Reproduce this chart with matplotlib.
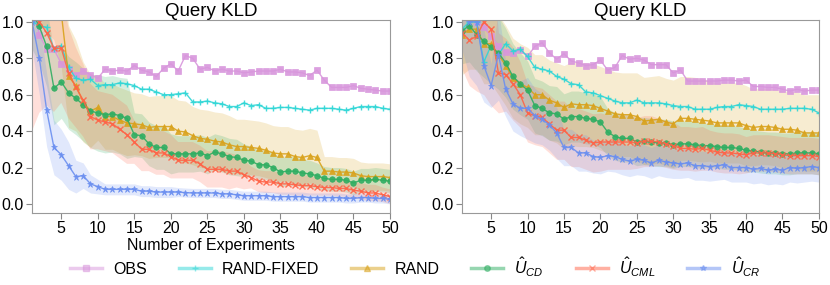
import numpy as np
import matplotlib
matplotlib.use('Agg')
import matplotlib.pyplot as plt
from matplotlib.lines import Line2D

plt.rcParams['font.family'] = ['Liberation Sans', 'DejaVu Sans']
plt.rcParams['mathtext.fontset'] = 'custom'
plt.rcParams['mathtext.rm'] = 'Liberation Sans'
plt.rcParams['mathtext.it'] = 'Liberation Sans:italic'

n_exp = np.arange(1, 51)

# ---- left panel: means ----
obs_L = [1.10, 0.93, 0.85, 0.85, 0.77, 0.74, 0.71, 0.73, 0.71, 0.69,
         0.74, 0.73, 0.735, 0.73, 0.76, 0.735, 0.725, 0.70, 0.745, 0.77,
         0.73, 0.815, 0.80, 0.74, 0.75, 0.73, 0.74, 0.73, 0.73, 0.72,
         0.725, 0.73, 0.73, 0.73, 0.74, 0.725, 0.725, 0.72, 0.705, 0.735,
         0.68, 0.64, 0.64, 0.64, 0.65, 0.635, 0.63, 0.625, 0.62, 0.62]
fixed_L = [1.0, 0.98, 0.97, 0.85, 0.87, 0.75, 0.69, 0.68, 0.685, 0.65,
           0.655, 0.655, 0.665, 0.66, 0.65, 0.63, 0.63, 0.615, 0.60, 0.60,
           0.605, 0.61, 0.56, 0.56, 0.565, 0.555, 0.55, 0.535, 0.535, 0.555,
           0.54, 0.545, 0.525, 0.525, 0.53, 0.53, 0.525, 0.52, 0.515, 0.525,
           0.525, 0.525, 0.52, 0.515, 0.525, 0.535, 0.535, 0.535, 0.525, 0.52]
rand_L = [1.3, 1.3, 1.25, 1.2, 1.05, 0.70, 0.65, 0.56, 0.51, 0.53,
          0.48, 0.48, 0.46, 0.445, 0.44, 0.435, 0.42, 0.425, 0.425, 0.425,
          0.40, 0.395, 0.375, 0.36, 0.355, 0.345, 0.34, 0.325, 0.315, 0.315,
          0.31, 0.305, 0.295, 0.28, 0.275, 0.275, 0.26, 0.255, 0.265, 0.255,
          0.18, 0.18, 0.175, 0.175, 0.17, 0.155, 0.15, 0.15, 0.15, 0.145]
ucd_L = [1.05, 0.975, 0.865, 0.635, 0.67, 0.61, 0.58, 0.545, 0.51, 0.50,
         0.49, 0.495, 0.485, 0.47, 0.38, 0.375, 0.33, 0.31, 0.31, 0.275,
         0.275, 0.275, 0.275, 0.28, 0.265, 0.285, 0.275, 0.26, 0.255, 0.24,
         0.235, 0.215, 0.215, 0.20, 0.175, 0.18, 0.18, 0.17, 0.165, 0.155,
         0.14, 0.135, 0.135, 0.13, 0.115, 0.13, 0.13, 0.135, 0.13, 0.125]
ucml_L = [1.05, 1.0, 0.94, 0.855, 0.855, 0.72, 0.64, 0.57, 0.48, 0.46,
          0.45, 0.44, 0.41, 0.38, 0.34, 0.30, 0.30, 0.28, 0.28, 0.26,
          0.24, 0.24, 0.24, 0.22, 0.19, 0.19, 0.19, 0.18, 0.18, 0.16,
          0.145, 0.125, 0.12, 0.12, 0.11, 0.11, 0.105, 0.10, 0.10, 0.095,
          0.09, 0.09, 0.085, 0.085, 0.075, 0.07, 0.06, 0.06, 0.05, 0.04]
ucr_L = [1.0, 0.80, 0.515, 0.31, 0.27, 0.21, 0.15, 0.155, 0.11, 0.095,
         0.08, 0.08, 0.08, 0.08, 0.08, 0.07, 0.07, 0.065, 0.065, 0.065,
         0.065, 0.062, 0.06, 0.06, 0.06, 0.06, 0.055, 0.055, 0.05, 0.045,
         0.045, 0.045, 0.045, 0.04, 0.04, 0.04, 0.04, 0.04, 0.035, 0.035,
         0.035, 0.035, 0.035, 0.03, 0.03, 0.035, 0.035, 0.03, 0.03, 0.025]

# ---- left panel: band half widths ----
rand_L_sd = [0.30, 0.30, 0.30, 0.30, 0.30, 0.28, 0.25, 0.22, 0.20, 0.18,
             0.18, 0.18, 0.18, 0.18, 0.17, 0.17, 0.17, 0.17, 0.17, 0.17,
             0.17, 0.17, 0.16, 0.16, 0.16, 0.16, 0.16, 0.16, 0.15, 0.15,
             0.15, 0.15, 0.15, 0.15, 0.15, 0.15, 0.15, 0.15, 0.15, 0.15,
             0.08, 0.08, 0.08, 0.08, 0.08, 0.075, 0.075, 0.075, 0.075, 0.075]
ucd_L_sd = [0.20, 0.20, 0.22, 0.20, 0.20, 0.20, 0.20, 0.20, 0.20, 0.21,
            0.21, 0.21, 0.21, 0.22, 0.12, 0.12, 0.12, 0.12, 0.12, 0.11,
            0.10, 0.10, 0.10, 0.10, 0.10, 0.10, 0.10, 0.10, 0.10, 0.09,
            0.08, 0.08, 0.08, 0.08, 0.08, 0.08, 0.08, 0.075, 0.075, 0.07,
            0.065, 0.065, 0.065, 0.065, 0.065, 0.065, 0.065, 0.065, 0.065, 0.065]
ucml_L_sd = [0.65, 0.50, 0.40, 0.35, 0.30, 0.25, 0.22, 0.20, 0.18, 0.16,
             0.16, 0.16, 0.16, 0.16, 0.12, 0.12, 0.12, 0.12, 0.12, 0.12,
             0.10, 0.10, 0.10, 0.10, 0.10, 0.10, 0.10, 0.10, 0.09, 0.08,
             0.06, 0.06, 0.06, 0.06, 0.06, 0.06, 0.06, 0.055, 0.055, 0.05,
             0.045, 0.045, 0.045, 0.045, 0.045, 0.045, 0.045, 0.045, 0.04, 0.04]
ucr_L_sd = [0.15, 0.20, 0.20, 0.15, 0.14, 0.13, 0.09, 0.07, 0.05, 0.04,
            0.03, 0.03, 0.03, 0.03, 0.03, 0.03, 0.03, 0.03, 0.03, 0.03,
            0.025, 0.025, 0.025, 0.025, 0.025, 0.025, 0.025, 0.025, 0.025, 0.025,
            0.025, 0.025, 0.025, 0.025, 0.025, 0.025, 0.025, 0.025, 0.025, 0.025,
            0.025, 0.025, 0.025, 0.025, 0.025, 0.025, 0.025, 0.025, 0.025, 0.025]

# ---- right panel: means ----
obs_R = [1.05, 1.03, 1.0, 0.97, 0.92, 0.87, 0.835, 0.83, 0.845, 0.81,
         0.865, 0.885, 0.83, 0.795, 0.825, 0.785, 0.775, 0.76, 0.765, 0.79,
         0.735, 0.75, 0.815, 0.795, 0.80, 0.79, 0.765, 0.765, 0.765, 0.72,
         0.735, 0.675, 0.675, 0.675, 0.675, 0.675, 0.68, 0.68, 0.675, 0.68,
         0.645, 0.645, 0.64, 0.64, 0.63, 0.62, 0.63, 0.62, 0.625, 0.625]
fixed_R = [0.96, 1.0, 1.0, 0.78, 0.87, 0.82, 0.88, 0.84, 0.85, 0.81,
           0.75, 0.74, 0.73, 0.70, 0.685, 0.66, 0.655, 0.615, 0.61, 0.595,
           0.58, 0.565, 0.555, 0.555, 0.57, 0.555, 0.555, 0.555, 0.55, 0.54,
           0.535, 0.535, 0.52, 0.52, 0.52, 0.53, 0.535, 0.535, 0.545, 0.54,
           0.535, 0.52, 0.52, 0.52, 0.52, 0.525, 0.525, 0.525, 0.52, 0.50]
rand_R = [0.93, 0.96, 0.96, 0.88, 0.88, 0.82, 0.76, 0.69, 0.66, 0.64,
          0.60, 0.60, 0.57, 0.555, 0.53, 0.55, 0.545, 0.545, 0.54, 0.525,
          0.51, 0.495, 0.49, 0.49, 0.48, 0.455, 0.46, 0.465, 0.45, 0.44,
          0.47, 0.47, 0.465, 0.46, 0.455, 0.445, 0.445, 0.445, 0.445, 0.43,
          0.42, 0.425, 0.425, 0.42, 0.41, 0.41, 0.405, 0.39, 0.39, 0.39]
ucd_R = [0.95, 0.98, 0.93, 0.895, 0.86, 0.83, 0.775, 0.70, 0.66, 0.625,
         0.54, 0.525, 0.50, 0.495, 0.465, 0.48, 0.48, 0.47, 0.465, 0.45,
         0.395, 0.37, 0.36, 0.36, 0.34, 0.345, 0.34, 0.335, 0.335, 0.325,
         0.33, 0.33, 0.325, 0.32, 0.32, 0.315, 0.31, 0.31, 0.305, 0.295,
         0.29, 0.285, 0.28, 0.28, 0.275, 0.275, 0.28, 0.28, 0.28, 0.275]
ucml_R = [0.94, 0.90, 0.92, 1.0, 0.96, 0.72, 0.71, 0.66, 0.60, 0.50,
          0.485, 0.475, 0.44, 0.405, 0.405, 0.365, 0.365, 0.35, 0.335, 0.34,
          0.34, 0.34, 0.34, 0.34, 0.335, 0.345, 0.345, 0.34, 0.33, 0.32,
          0.305, 0.305, 0.30, 0.305, 0.295, 0.285, 0.28, 0.28, 0.275, 0.27,
          0.28, 0.28, 0.28, 0.275, 0.27, 0.265, 0.265, 0.265, 0.265, 0.26]
ucr_R = [1.05, 1.0, 1.0, 0.76, 0.65, 0.82, 0.63, 0.55, 0.525, 0.525,
         0.485, 0.465, 0.435, 0.39, 0.31, 0.31, 0.28, 0.28, 0.26, 0.255,
         0.265, 0.26, 0.245, 0.235, 0.245, 0.24, 0.225, 0.24, 0.23, 0.225,
         0.22, 0.225, 0.21, 0.21, 0.205, 0.21, 0.215, 0.20, 0.20, 0.20,
         0.19, 0.195, 0.185, 0.19, 0.185, 0.20, 0.195, 0.20, 0.205, 0.20]

# ---- right panel: band half widths ----
rand_R_sd = [0.22, 0.22, 0.22, 0.22, 0.22, 0.22, 0.22, 0.22, 0.22, 0.22,
             0.22, 0.22, 0.22, 0.22, 0.23, 0.23, 0.23, 0.23, 0.23, 0.23,
             0.23, 0.23, 0.23, 0.23, 0.24, 0.24, 0.24, 0.24, 0.24, 0.24,
             0.23, 0.23, 0.23, 0.23, 0.22, 0.22, 0.22, 0.22, 0.22, 0.22,
             0.21, 0.21, 0.21, 0.21, 0.21, 0.21, 0.21, 0.21, 0.21, 0.21]
ucd_R_sd = [0.18, 0.20, 0.20, 0.20, 0.20, 0.20, 0.19, 0.18, 0.17, 0.16,
            0.15, 0.15, 0.15, 0.15, 0.14, 0.14, 0.14, 0.14, 0.14, 0.14,
            0.13, 0.13, 0.13, 0.13, 0.13, 0.13, 0.13, 0.13, 0.13, 0.13,
            0.125, 0.125, 0.125, 0.125, 0.12, 0.12, 0.12, 0.12, 0.12, 0.12,
            0.115, 0.115, 0.115, 0.115, 0.115, 0.115, 0.115, 0.115, 0.115, 0.115]
ucml_R_sd = [0.20, 0.25, 0.30, 0.40, 0.42, 0.22, 0.20, 0.20, 0.18, 0.16,
             0.16, 0.16, 0.16, 0.16, 0.16, 0.16, 0.16, 0.16, 0.16, 0.16,
             0.15, 0.15, 0.15, 0.15, 0.14, 0.14, 0.14, 0.13, 0.13, 0.13,
             0.12, 0.12, 0.12, 0.12, 0.11, 0.11, 0.11, 0.11, 0.11, 0.10,
             0.10, 0.10, 0.10, 0.10, 0.10, 0.10, 0.10, 0.10, 0.10, 0.10]
ucr_R_sd = [0.20, 0.30, 0.35, 0.20, 0.12, 0.25, 0.15, 0.15, 0.15, 0.17,
            0.15, 0.14, 0.14, 0.14, 0.10, 0.10, 0.10, 0.10, 0.09, 0.09,
            0.085, 0.085, 0.085, 0.085, 0.085, 0.085, 0.085, 0.085, 0.085, 0.085,
            0.08, 0.08, 0.08, 0.08, 0.08, 0.08, 0.08, 0.08, 0.08, 0.08,
            0.08, 0.08, 0.08, 0.08, 0.08, 0.08, 0.08, 0.08, 0.08, 0.08]

labels = ['OBS', 'RAND-FIXED', 'RAND', r'$\hat{U}_{CD}$', r'$\hat{U}_{CML}$', r'$\hat{U}_{CR}$']
colors = ['#d896dc', '#2ed6d6', '#d9a21b', '#2fae62', '#ff6347', '#6b8ff0']
markers = ['s', '+', '^', 'o', 'x', '*']

panels = [
    ([obs_L, fixed_L, rand_L, ucd_L, ucml_L, ucr_L],
     [None, None, rand_L_sd, ucd_L_sd, ucml_L_sd, ucr_L_sd]),
    ([obs_R, fixed_R, rand_R, ucd_R, ucml_R, ucr_R],
     [None, None, rand_R_sd, ucd_R_sd, ucml_R_sd, ucr_R_sd]),
]

fig = plt.figure(figsize=(8.3, 2.85), dpi=100)
ax_pos = [[0.0386, 0.2526, 0.4313, 0.677], [0.5566, 0.2526, 0.430, 0.677]]

for k, (means, sds) in enumerate(panels):
    ax = fig.add_axes(ax_pos[k])
    # shaded spread bands
    for m, sd, c in zip(means, sds, colors):
        if sd is None:
            continue
        m = np.array(m)
        sd = np.array(sd)
        ax.fill_between(n_exp, m - sd, m + sd, color=c, alpha=0.2, linewidth=0)
    for m, c, mk in zip(means, colors, markers):
        ms = 5 if mk == '*' else 4
        ax.plot(n_exp, m, color=c, marker=mk, markersize=ms, linewidth=1.0,
                markeredgewidth=1.0 if mk in '+x' else 0.5, alpha=0.9)
    ax.set_xlim(1, 50)
    ax.set_ylim(-0.05, 1.01)
    ax.set_xticks(np.arange(5, 51, 5))
    ax.set_yticks(np.arange(0, 1.01, 0.2))
    ax.set_yticklabels([f'{v:.1f}' for v in np.arange(0, 1.01, 0.2)])
    ax.tick_params(labelsize=11.5, length=4, color='#888888', pad=2)
    for s in ax.spines.values():
        s.set_color('#999999')
    ax.set_title('Query KLD', fontsize=13.5, pad=2)
    if k == 0:
        ax.set_xlabel('Number of Experiments', fontsize=11.5, labelpad=1)

handles = [Line2D([], [], color=c, marker=mk, markersize=4, linewidth=2.5, alpha=0.5)
           for c, mk in zip(colors, markers)]
fig.legend(handles, labels, loc='center', bbox_to_anchor=(0.5, 0.063), ncol=6,
           frameon=False, fontsize=11.5, handlelength=2.0, columnspacing=2.0,
           handletextpad=0.7)

fig.savefig('out.png', dpi=100)
